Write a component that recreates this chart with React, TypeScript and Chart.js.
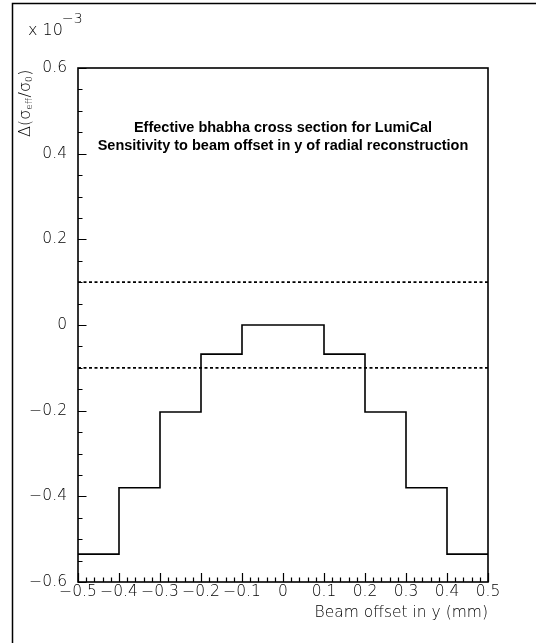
import React, { useEffect, useRef } from "react";
import { Chart, registerables } from "chart.js";

Chart.register(...registerables);

// Histogram: beam offset bins (mm) and relative change of the effective cross section (x 10^-3)
const binEdges = [-0.5, -0.4, -0.3, -0.2, -0.1, 0, 0.1, 0.2, 0.3, 0.4, 0.5];
const binValues = [-0.535, -0.38, -0.203, -0.068, 0, 0, -0.068, -0.203, -0.38, -0.535];

// Tolerance band drawn as dotted lines
const bandLimits = [0.1, -0.1];

// Axis ranges and label steps
const xRange = [-0.5, 0.5];
const yRange = [-0.6, 0.6];
const xLabelStep = 0.1;
const yLabelStep = 0.2;
const xMinorStep = 0.02;
const yMinorStep = 0.05;

const titleLines = [
  "Effective bhabha cross section for LumiCal",
  "Sensitivity to beam offset in y of radial reconstruction",
];
const xAxisTitle = "Beam offset in y (mm)";

const W = 536;
const H = 643;
const TEXT_FONT = "'DejaVu Sans', sans-serif";
const TEXT_WEIGHT = "200";
const TEXT_SIZE = 15.5;

function fmt(v: number): string {
  const r = Math.round(v * 10) / 10;
  if (r === 0) return "0";
  const s = Math.abs(r).toFixed(1);
  return r < 0 ? "\u2212" + s : s;
}

const framePlugin = {
  id: "paw-frame",
  afterDraw(chart: any) {
    const { ctx, chartArea: a, scales } = chart;
    const xs = scales.x;
    const ys = scales.y;
    ctx.save();

    // page border (top and left edges)
    ctx.strokeStyle = "#000";
    ctx.lineWidth = 1.5;
    ctx.beginPath();
    ctx.moveTo(12.5, H);
    ctx.lineTo(12.5, 3.5);
    ctx.lineTo(W, 3.5);
    ctx.stroke();

    // plot frame
    ctx.lineWidth = 1.6;
    ctx.strokeRect(a.left, a.top, a.right - a.left, a.bottom - a.top);

    // inward ticks on the bottom axis
    ctx.lineWidth = 1.2;
    ctx.beginPath();
    const nx = Math.round((xRange[1] - xRange[0]) / xMinorStep);
    const xPer = Math.round(xLabelStep / xMinorStep);
    for (let i = 0; i <= nx; i++) {
      const v = xRange[0] + i * xMinorStep;
      const px = Math.round(xs.getPixelForValue(v)) + 0.5;
      const len = i % xPer === 0 ? 9 : 4.5;
      ctx.moveTo(px, a.bottom);
      ctx.lineTo(px, a.bottom - len);
    }
    // inward ticks on the left axis
    const ny = Math.round((yRange[1] - yRange[0]) / yMinorStep);
    const yPer = Math.round(yLabelStep / yMinorStep);
    for (let i = 0; i <= ny; i++) {
      const v = yRange[0] + i * yMinorStep;
      const py = Math.round(ys.getPixelForValue(v)) + 0.5;
      const len = i % yPer === 0 ? 8.5 : 4.5;
      ctx.moveTo(a.left, py);
      ctx.lineTo(a.left + len, py);
    }
    ctx.stroke();

    // histogram title inside the frame
    const cx = (a.left + a.right) / 2;
    ctx.fillStyle = "#000";
    ctx.textAlign = "center";
    ctx.textBaseline = "alphabetic";
    ctx.font = "bold 14.5px 'Liberation Sans', Arial, sans-serif";
    ctx.fillText(titleLines[0], cx, a.top + 64);
    ctx.fillText(titleLines[1], cx, a.top + 82);

    // exponent of the y axis
    ctx.textAlign = "left";
    ctx.font = `${TEXT_WEIGHT} 16px ${TEXT_FONT}`;
    ctx.fillText("x 10", 28, 35);
    ctx.font = `${TEXT_WEIGHT} 14px ${TEXT_FONT}`;
    ctx.fillText("\u22123", 62, 23);

    // y axis title, rotated: Δ(σ_eff/σ_0)
    ctx.translate(30, a.top + 69);
    ctx.rotate(-Math.PI / 2);
    const parts: [string, boolean][] = [
      ["\u0394(\u03c3", false],
      ["eff", true],
      ["/\u03c3", false],
      ["0", true],
      [")", false],
    ];
    let x = 0;
    for (const [t, sub] of parts) {
      ctx.font = sub ? `${TEXT_WEIGHT} 9px ${TEXT_FONT}` : `${TEXT_WEIGHT} 16px ${TEXT_FONT}`;
      ctx.fillText(t, x, sub ? 1.5 : 0);
      x += ctx.measureText(t).width + (sub ? 0.5 : 0);
    }
    ctx.restore();
  },
};

export default function App() {
  const ref = useRef<HTMLCanvasElement>(null);

  useEffect(() => {
    const canvas = ref.current;
    if (!canvas) return;

    const histPoints = binValues.map((v, i) => ({ x: binEdges[i], y: v }));
    histPoints.push({ x: binEdges[binEdges.length - 1], y: binValues[binValues.length - 1] });

    const bandSets = bandLimits.map((lim) => ({
      data: [
        { x: xRange[0], y: lim },
        { x: xRange[1], y: lim },
      ],
      borderColor: "#000",
      borderWidth: 1.6,
      borderDash: [3, 2.5],
      pointRadius: 0,
      fill: false,
    }));

    const tickFont = { family: TEXT_FONT, size: TEXT_SIZE, weight: TEXT_WEIGHT };

    const chart = new Chart(canvas, {
      type: "line",
      data: {
        datasets: [
          {
            data: histPoints,
            stepped: "before",
            borderColor: "#000",
            borderWidth: 1.6,
            pointRadius: 0,
            fill: false,
          } as any,
          ...bandSets,
        ],
      },
      options: {
        responsive: false,
        animation: false,
        devicePixelRatio: 1,
        events: [],
        layout: { padding: { left: 0, top: 68, right: 48, bottom: 21 } },
        plugins: {
          legend: { display: false },
          tooltip: { enabled: false },
          title: { display: false },
        },
        scales: {
          x: {
            type: "linear",
            min: xRange[0],
            max: xRange[1],
            afterFit: (s: any) => {
              s.height = 40;
            },
            grid: { display: false, drawTicks: false },
            border: { display: false },
            ticks: {
              stepSize: xLabelStep,
              autoSkip: false,
              maxRotation: 0,
              padding: 1,
              color: "#000",
              font: tickFont,
              callback: (v: any) => fmt(Number(v)),
            },
            title: {
              display: true,
              text: xAxisTitle,
              align: "end",
              color: "#000",
              font: tickFont,
              padding: { top: 0, bottom: 0 },
            },
          },
          y: {
            type: "linear",
            min: yRange[0],
            max: yRange[1],
            afterFit: (s: any) => {
              s.width = 78;
            },
            grid: { display: false, drawTicks: false },
            border: { display: false },
            ticks: {
              stepSize: yLabelStep,
              autoSkip: false,
              padding: 11,
              color: "#000",
              font: tickFont,
              callback: (v: any) => fmt(Number(v)),
            },
          },
        },
      } as any,
      plugins: [framePlugin],
    });

    return () => chart.destroy();
  }, []);

  return (
    <div style={{ position: "fixed", left: 0, top: 0, width: W, height: H, background: "#fff" }}>
      <canvas ref={ref} width={W} height={H} style={{ display: "block", width: W, height: H }} />
    </div>
  );
}
